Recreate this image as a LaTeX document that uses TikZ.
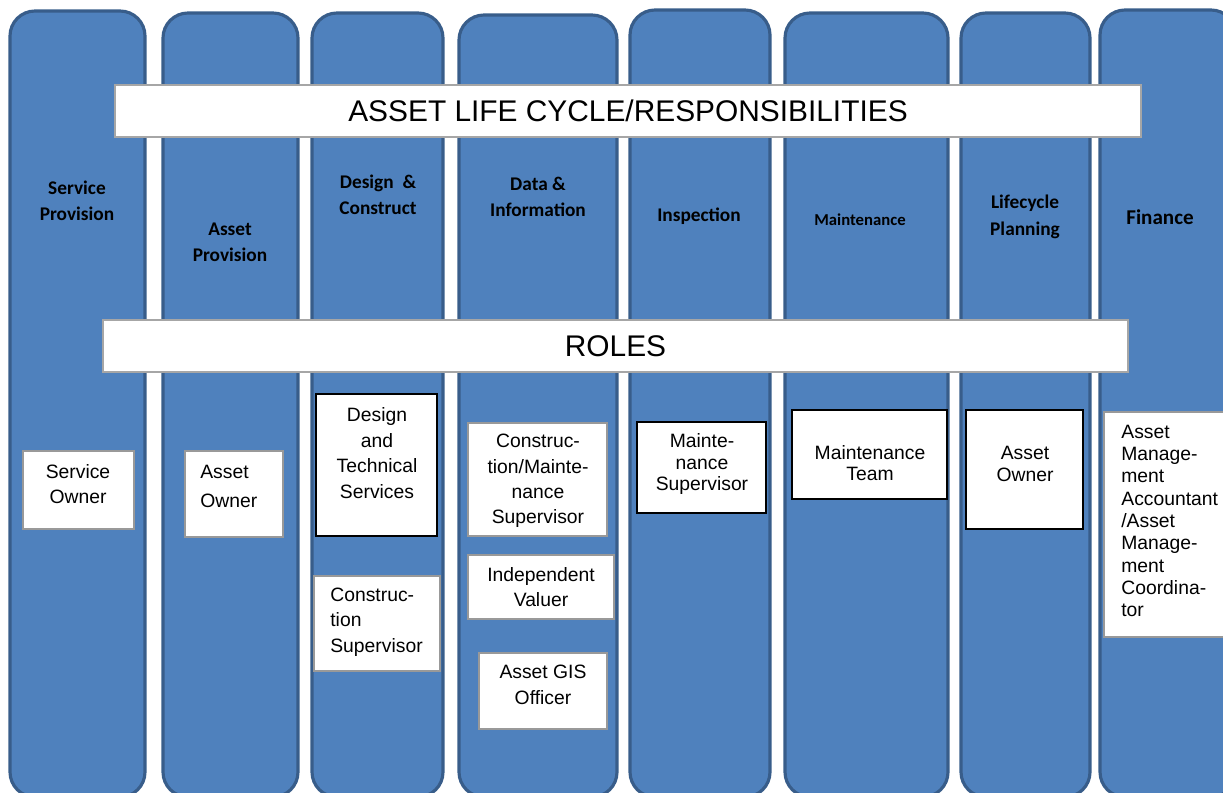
\documentclass[tikz,border=0pt]{standalone}
\usepackage{fontspec}
\setmainfont{Liberation Sans}
\newfontfamily\headfont{Carlito}
\usepackage{tikz}
\definecolor{colblue}{RGB}{79,129,189}
\definecolor{coledge}{RGB}{56,93,138}

\begin{document}
\begin{tikzpicture}[x=0.02cm, y=-0.02cm,
        column/.style={draw=coledge, line width=1.8pt, fill=colblue, rounded corners=0.5cm},
        banner/.style={draw=gray!70, line width=0.8pt, fill=white, inner sep=0pt, font=\fontsize{17}{20}\selectfont},
        rolebox/.style={draw=gray!80, line width=0.8pt, fill=white},
        keybox/.style={draw=black, line width=1.4pt, fill=white},
        head/.style={font=\headfont\bfseries\fontsize{11}{15}\selectfont, align=center},
        role/.style={font=\fontsize{11}{14.5}\selectfont, align=center, inner sep=0pt}]
        \useasboundingbox (0,0) rectangle (1223,792);

        % the eight columns
        \foreach \l/\r/\t in {10/145/11, 163/298/13, 312/443/13, 459/617/15, 630/770/10, 785/948/13, 961/1090/13, 1100/1236/10}
            \draw[column] (\l,\t) rectangle (\r,797);

        \node[banner, minimum width=20.52cm, minimum height=1.04cm] (cycle) at (628,111) {ASSET LIFE CYCLE/RESPONSIBILITIES};
        \node[banner, minimum width=20.5cm, minimum height=1.04cm] (roles) at (615.5,346) {ROLES};

        \node[head] (service) at (77,201) {Service\\Provision};
        \node[head] (asset) at (230,242) {Asset\\Provision};
        \node[head] (design) at (378,195) {Design\ \ \&\\Construct};
        \node[head] (data) at (538,197) {Data \&\\Information};
        \node[head] (inspect) at (699,216) {Inspection};
        \node[head, font=\headfont\bfseries\fontsize{9.5}{12}\selectfont] (maint) at (860,220) {Maintenance};
        \node[head] (plan) at (1025,217) {Lifecycle\\Planning};
        \node[head, font=\headfont\bfseries\fontsize{12}{15}\selectfont] (finance) at (1160,217) {Finance};

        % roles
        \draw[rolebox] (23,451) rectangle (134,529);
        \node[role] (srvowner) at (78,484) {Service\\Owner};
        \draw[rolebox] (185,451) rectangle (283,537);
        \node[role, anchor=west, align=left, font=\fontsize{11}{16.5}\selectfont] (astowner) at (200,486) {Asset\\Owner};
        \draw[keybox] (316,394) rectangle (437,536);
        \node[role] (techsrv) at (377,453) {Design\\and\\Technical\\Services};
        \draw[rolebox] (314,576) rectangle (440,671);
        \node[role, anchor=west, align=left] (conssup) at (330,622) {Construc-\\tion\\Supervisor};
        \draw[rolebox] (468,423) rectangle (607,536);
        \node[role] (cmsup) at (538,481) {Construc-\\tion/Mainte-\\nance\\Supervisor};
        \draw[rolebox] (468,555) rectangle (614,619);
        \node[role] (valuer) at (541,587) {Independent\\Valuer};
        \draw[rolebox] (479,653) rectangle (607,729);
        \node[role] (gis) at (543,685) {Asset GIS\\Officer};
        \draw[keybox] (637,422) rectangle (766,513);
        \node[role, font=\fontsize{11}{12.3}\selectfont] (mntsup) at (702,464) {Mainte-\\nance\\Supervisor};
        \draw[keybox] (792,410) rectangle (947,499);
        \node[role, font=\fontsize{11}{12.3}\selectfont] (mntteam) at (870,463) {Maintenance\\Team};
        \draw[keybox] (966,410) rectangle (1083,529);
        \node[role, font=\fontsize{11}{12.3}\selectfont] (lcowner) at (1025,464) {Asset\\Owner};
        \draw[rolebox] (1104,412) rectangle (1232,637);
        \node[role, anchor=west, align=left, font=\fontsize{11}{12.7}\selectfont] (accnt) at (1121,521) {Asset\\Manage-\\ment\\Accountant\\/Asset\\Manage-\\ment\\Coordina-\\tor};
    \end{tikzpicture}
\end{document}
